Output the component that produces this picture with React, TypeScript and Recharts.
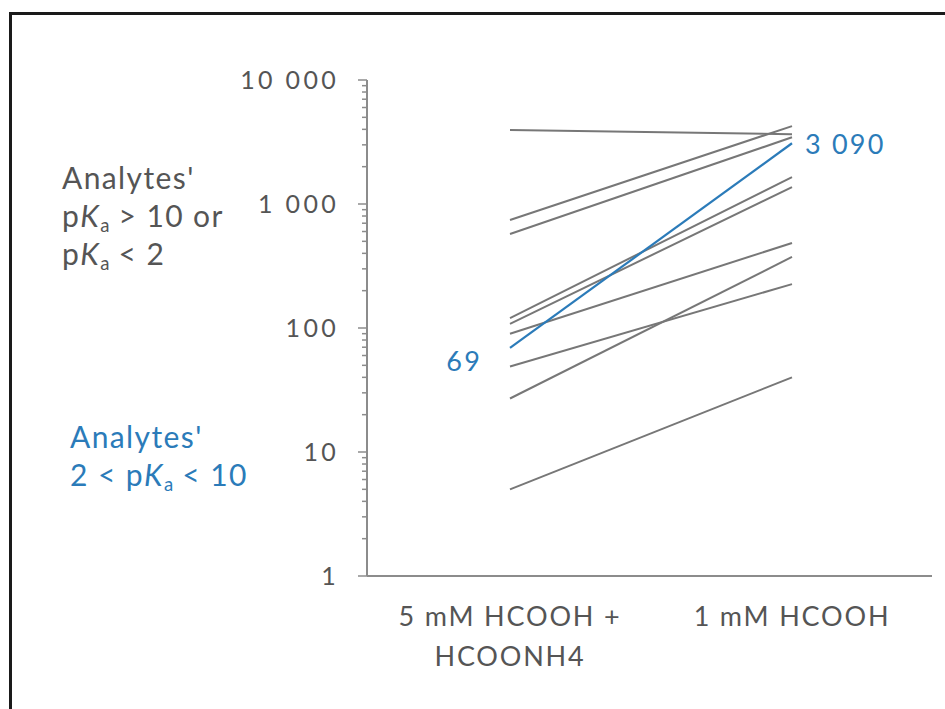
import { LineChart, Line, XAxis, YAxis, LabelList } from 'recharts'

// 兩種流動相條件
const conditions = ['5 mM HCOOH + HCOONH4', '1 mM HCOOH']
const conditionLines = [['5 mM HCOOH +', 'HCOONH4'], ['1 mM HCOOH']]

// 灰線：pKa > 10 或 pKa < 2 的分析物
const bufferedSignal = [3950, 743, 573, 120, 108, 90, 49, 27, 5]
const acidSignal = [3650, 4250, 3450, 1650, 1370, 485, 226, 374, 40]

// 藍線：2 < pKa < 10 的分析物
const highlightSignal = [69, 3090]

const majorTicks = [1, 10, 100, 1000, 10000]
const minorSteps = [2, 3, 4, 5, 6, 7, 8, 9]

const axisGray = '#8c8c8c'
const textGray = '#555555'
const lineGray = '#777777'
const blue = '#2b7bb9'
const font = 'Lato, "Open Sans", sans-serif'

const allTicks = [
  ...majorTicks,
  ...majorTicks.slice(0, -1).flatMap((m) => minorSteps.map((s) => m * s)),
].sort((a, b) => a - b)

const fmt = (v: number) => v.toLocaleString('en-US').replace(/,/g, ' ')

const chartData = conditions.map((cond, i) => {
  const row: Record<string, string | number> = { cond, hl: highlightSignal[i] }
  bufferedSignal.forEach((_, k) => {
    row[`a${k}`] = i === 0 ? bufferedSignal[k] : acidSignal[k]
  })
  return row
})

function YTick(props: any) {
  const { x, y, payload } = props
  const v = payload.value
  const major = majorTicks.includes(v)
  return (
    <g>
      <line x1={x - (major ? 9 : 5)} x2={x} y1={y} y2={y} stroke={axisGray} strokeWidth={1.5} />
      {major && (
        <text
          x={x - 28}
          y={y}
          dy="0.35em"
          textAnchor="end"
          fill={textGray}
          fontSize={25}
          letterSpacing={3.3}
          fontFamily={font}
        >
          {fmt(v)}
        </text>
      )}
    </g>
  )
}

function XTick(props: any) {
  const { x, y, index } = props
  const lines = conditionLines[index] || []
  return (
    <text x={x} y={y} textAnchor="middle" fill={textGray} fontSize={27} letterSpacing={1.8} fontFamily={font}>
      {lines.map((t, i) => (
        <tspan key={i} x={x} dy={i === 0 ? 50 : 40}>
          {t}
        </tspan>
      ))}
    </text>
  )
}

function HighlightLabel(props: any) {
  const { x, y, value, index } = props
  const left = index === 0
  return (
    <text
      x={left ? x - 28 : x + 13}
      y={left ? y + 23 : y + 11}
      textAnchor={left ? 'end' : 'start'}
      fill={blue}
      fontSize={27}
      letterSpacing={2.2}
      fontFamily={font}
    >
      {fmt(value)}
    </text>
  )
}

const Sub = ({ children }: { children: string }) => (
  <sub style={{ fontSize: '0.62em', verticalAlign: '-0.25em', lineHeight: 0, letterSpacing: 0 }}>{children}</sub>
)

export default function App() {
  return (
    <div style={{ position: 'absolute', left: 0, top: 0, width: 945, height: 709, overflow: 'hidden', background: '#fff' }}>
      <div
        style={{
          position: 'absolute',
          left: 9,
          top: 12,
          width: 945,
          height: 709,
          borderTop: '3px solid #1a1a1a',
          borderLeft: '3px solid #1a1a1a',
        }}
      />
      <div
        style={{
          position: 'absolute',
          left: 62,
          top: 158,
          fontFamily: font,
          fontSize: 30,
          letterSpacing: 1.4,
          lineHeight: '38px',
          color: textGray,
        }}
      >
        <div>Analytes'</div>
        <div>
          p<i>K</i>
          <Sub>a</Sub> &gt; 10 or
        </div>
        <div>
          p<i>K</i>
          <Sub>a</Sub> &lt; 2
        </div>
      </div>
      <div
        style={{
          position: 'absolute',
          left: 70,
          top: 417,
          fontFamily: font,
          fontSize: 30,
          letterSpacing: 1.4,
          lineHeight: '38px',
          color: blue,
        }}
      >
        <div>Analytes'</div>
        <div>
          2 &lt; p<i>K</i>
          <Sub>a</Sub> &lt; 10
        </div>
      </div>
      <div style={{ position: 'absolute', left: 0, top: 0 }}>
        <LineChart width={945} height={709} data={chartData} margin={{ top: 80, right: 13, bottom: 0, left: 0 }}>
          <XAxis
            dataKey="cond"
            height={133}
            interval={0}
            padding={{ left: 143, right: 140 }}
            axisLine={{ stroke: axisGray, strokeWidth: 2 }}
            tickLine={false}
            tickSize={0}
            tickMargin={0}
            tick={<XTick />}
          />
          <YAxis
            scale="log"
            domain={[1, 10000]}
            allowDataOverflow
            ticks={allTicks}
            interval={0}
            width={367}
            axisLine={{ stroke: axisGray, strokeWidth: 2 }}
            tickLine={false}
            tickSize={0}
            tickMargin={0}
            tick={<YTick />}
          />
          {bufferedSignal.map((_, k) => (
            <Line
              key={k}
              dataKey={`a${k}`}
              stroke={lineGray}
              strokeWidth={2}
              dot={false}
              isAnimationActive={false}
            />
          ))}
          <Line dataKey="hl" stroke={blue} strokeWidth={2.2} dot={false} isAnimationActive={false}>
            <LabelList dataKey="hl" content={<HighlightLabel />} />
          </Line>
        </LineChart>
      </div>
    </div>
  )
}
